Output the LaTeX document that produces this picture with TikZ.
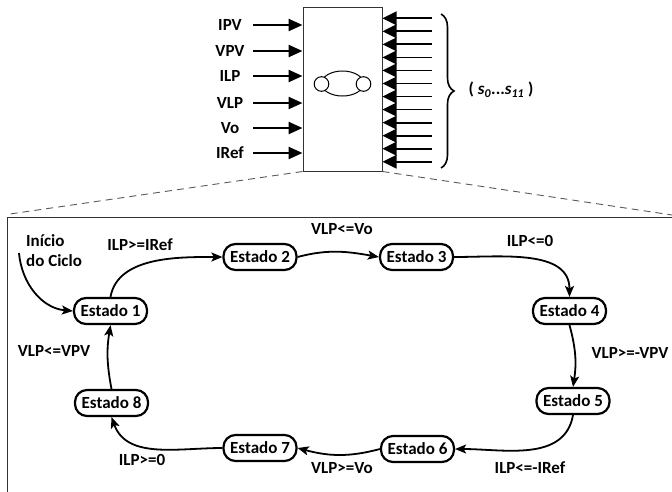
\documentclass[tikz,border=0pt]{standalone}
\usepackage{fontspec}
\setmainfont{Carlito}
\usetikzlibrary{arrows.meta,decorations.pathreplacing}
\begin{document}
\begin{tikzpicture}[x=1pt,y=-1pt,
  every node/.style={font=\fontsize{17}{20}\selectfont\bfseries},
  state/.style={draw,line width=2.2pt,rounded corners=12pt,minimum width=73pt,minimum height=26pt,inner sep=1pt},
  lbl/.style={inner sep=0pt},
  trans/.style={line width=1.8pt,-{Stealth[length=11pt,width=9pt,inset=2.5pt]}},
  inarr/.style={line width=2.4pt,-{Triangle[length=14pt,width=12pt]}},
  outarr/.style={line width=1.8pt,-{Triangle[length=14pt,width=13.5pt]}},
  dashln/.style={draw=black!65,line width=0.9pt,dash pattern=on 7pt off 5pt}]
\useasboundingbox (0,0) rectangle (672,491);
% block
\node[draw=black!80,line width=1pt,minimum width=79pt,minimum height=164pt,inner sep=0pt] (blk) at (342.5,89) {};
% symbol
\draw[line width=1pt] (342.5,83.5) ellipse [x radius=21pt, y radius=12.5pt];
\draw[line width=1pt,fill=white] (321.5,84) circle [radius=7.3pt];
\draw[line width=1pt,fill=white] (363.5,84) circle [radius=7.3pt];
% inputs
\foreach \t/\y [count=\i] in {IPV/25,VPV/51,ILP/76,VLP/103,Vo/128,IRef/153}{
  \node[lbl] (in\i) at (230,\y) {\t};
  \coordinate (is\i) at (253,\y);
  \draw[inarr] (is\i) -- (is\i -| blk.west);
}
% outputs
\foreach \k in {0,...,11}{
  \coordinate (os\k) at (432,{18.3+13.04*\k});
  \draw[outarr] (os\k) -- (os\k -| blk.east);
}
% brace
\coordinate (bt) at (441,14);
\coordinate (bb) at (441,168);
\draw[line width=1.6pt,decorate,decoration={brace,amplitude=13pt}] (bt) -- (bb);
\node[lbl] (sig) at (501,90) {( \textit{s}\textsubscript{\textit{0}}...\textit{s}\textsubscript{\textit{11}} )};
% dashed zoom lines
\coordinate (dl) at (10,214);
\coordinate (dr) at (672,215);
\draw[dashln] (blk.south west) -- (dl);
\draw[dashln] (blk.south east) -- (dr);
% frame
\draw[black!80,line width=1pt] (7.3,500) -- (7.3,217) -- (680,217);
% states
\node[state] (e1) at (110.5,311) {Estado 1};
\node[state] (e2) at (260,257) {Estado 2};
\node[state] (e3) at (416.5,257) {Estado 3};
\node[state] (e4) at (569.5,311) {Estado 4};
\node[state] (e5) at (573,401) {Estado 5};
\node[state] (e6) at (417.5,449) {Estado 6};
\node[state] (e7) at (260,448) {Estado 7};
\node[state] (e8) at (111.5,403) {Estado 8};
% start
\node[lbl,align=left,anchor=west] (ini) at (26,251) {Início\\do Ciclo};
\coordinate (st) at (19,253);
\draw[trans] (st) to[out=-85,in=175] (e1.west);
% transitions
\draw[trans] (e1.north) to[out=80,in=180,looseness=0.9] (e2.west);
\draw[trans] (e2.east) to[out=15,in=170] (e3.west);
\draw[trans] (e3.east) to[out=0,in=90] (e4.north);
\draw[trans] (e4.south) to[bend left=12] (e5.north);
\draw[trans] (e5.south) to[out=-100,in=0] (e6.east);
\draw[trans] (e6.west) to[out=195,in=-15] (e7.east);
\draw[trans] (e7.west) to[out=180,in=-70] (e8.south);
\draw[trans] (e8.north) to[bend left=10] (e1.south);
% transition labels
\node[lbl] (t12) at (140,245) {ILP>=IRef};
\node[lbl] (t23) at (342,229) {VLP<=Vo};
\node[lbl] (t34) at (530,241) {ILP<=0};
\node[lbl] (t45) at (630,353) {VLP>=-VPV};
\node[lbl] (t56) at (530,468) {ILP<=-IRef};
\node[lbl] (t67) at (342,468) {VLP>=Vo};
\node[lbl] (t78) at (142,460) {ILP>=0};
\node[lbl] (t81) at (54,351) {VLP<=VPV};
\end{tikzpicture}
\end{document}
